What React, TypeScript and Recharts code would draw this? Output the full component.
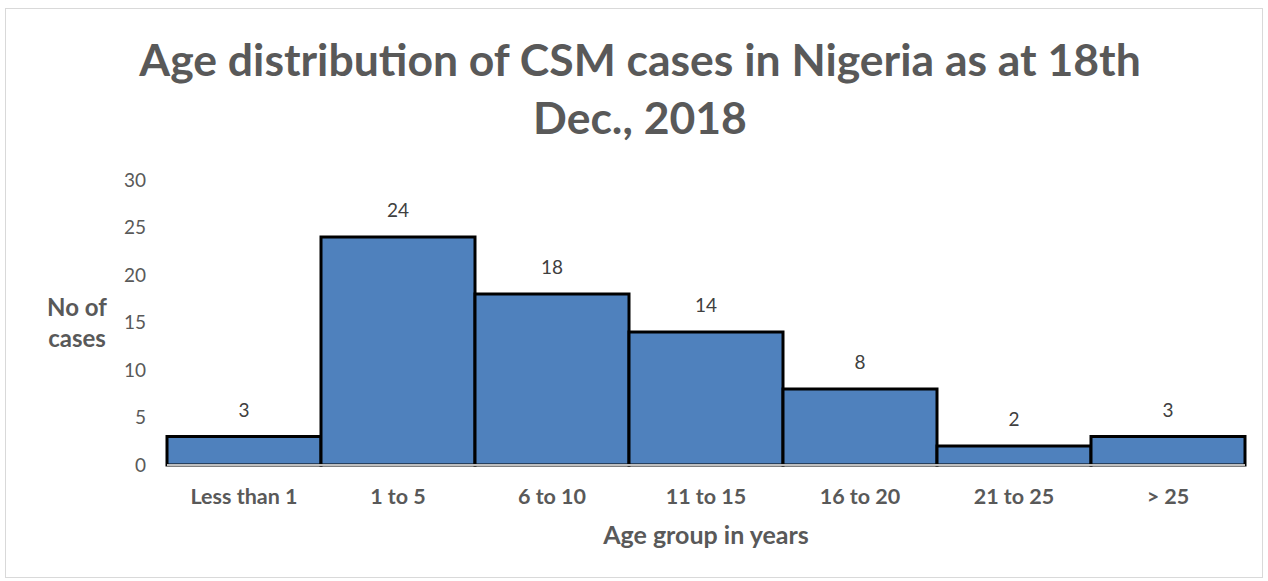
import React from 'react';
import { BarChart, Bar, XAxis, YAxis, LabelList } from 'recharts';

const ageGroups = ['Less than 1', '1 to 5', '6 to 10', '11 to 15', '16 to 20', '21 to 25', '> 25'];
const caseCounts = [3, 24, 18, 14, 8, 2, 3];
const yTicks = [0, 5, 10, 15, 20, 25, 30];
const boundaryTicks = [0, 1, 2, 3, 4, 5, 6, 7];

const data = ageGroups.map((group, i) => ({ group, cases: caseCounts[i] }));

const FONT = 'Lato, "Open Sans", sans-serif';
const GREY = '#595959';

const App: React.FC = () => {
  return (
    <div style={{ position: 'absolute', left: 0, top: 0, width: 1268, height: 581, background: '#fff', fontFamily: FONT }}>
      <div style={{ position: 'absolute', left: 5, top: 8, width: 1256, height: 568, border: '1px solid #D9D9D9' }} />
      <div
        style={{
          position: 'absolute', left: 6, top: 30, width: 1268, textAlign: 'center',
          fontSize: 44.5, fontWeight: 700, lineHeight: '58px', color: GREY,
        }}
      >
        Age distribution of CSM cases in Nigeria as at 18th
        <br />
        Dec., 2018
      </div>
      <div
        style={{
          position: 'absolute', left: 37, top: 291, width: 80, textAlign: 'center',
          fontSize: 24, fontWeight: 700, lineHeight: '31px', color: GREY,
        }}
      >
        No of
        <br />
        cases
      </div>
      <div
        style={{
          position: 'absolute', left: 506, top: 518, width: 400, textAlign: 'center',
          fontSize: 25, fontWeight: 700, lineHeight: '32px', color: GREY,
        }}
      >
        Age group in years
      </div>
      <div style={{ position: 'absolute', left: 0, top: 0 }}>
        <BarChart
          width={1268}
          height={581}
          data={data}
          barCategoryGap={0}
          margin={{ top: 180, right: 23, bottom: 56, left: 107 }}
        >
          <XAxis
            xAxisId="bounds"
            type="number"
            domain={[0, 7]}
            ticks={boundaryTicks}
            allowDataOverflow
            axisLine={false}
            tickLine={{ stroke: '#BFBFBF', strokeWidth: 1 }}
            tickSize={4}
            tick={false}
            height={0}
          />
          <XAxis
            dataKey="group"
            axisLine={{ stroke: '#BFBFBF', strokeWidth: 2 }}
            tickLine={false}
            tick={{ fill: GREY, fontSize: 21.5, fontWeight: 700, fontFamily: FONT }}
            tickMargin={18}
            height={60}
          />
          <YAxis
            domain={[0, 30]}
            ticks={yTicks}
            axisLine={false}
            tickLine={false}
            tickSize={0}
            tickMargin={21}
            width={60}
            tick={{ fill: GREY, fontSize: 19, fontFamily: FONT }}
          />
          <Bar dataKey="cases" fill="#4F81BD" stroke="#000" strokeWidth={3} isAnimationActive={false}>
            <LabelList dataKey="cases" position="top" offset={20} fill="#404040" fontSize={19} fontFamily={FONT} />
          </Bar>
        </BarChart>
      </div>
    </div>
  );
};

export default App;
